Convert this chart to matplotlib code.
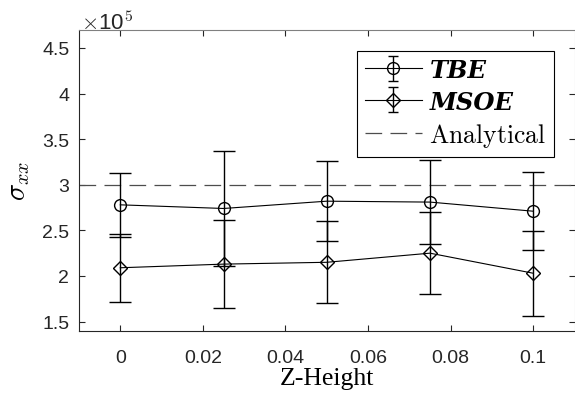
import matplotlib
matplotlib.use("Agg")
import matplotlib.pyplot as plt
from matplotlib.lines import Line2D
import numpy as np

# Data
z_height = [0.0, 0.025, 0.05, 0.075, 0.1]
tbe_mean = [2.78e5, 2.74e5, 2.82e5, 2.81e5, 2.71e5]
tbe_err = [0.35e5, 0.63e5, 0.44e5, 0.46e5, 0.43e5]
msoe_mean = [2.09e5, 2.13e5, 2.15e5, 2.25e5, 2.03e5]
msoe_err = [0.37e5, 0.48e5, 0.45e5, 0.45e5, 0.465e5]
analytical = 3.0e5
x_ticks = [0, 0.02, 0.04, 0.06, 0.08, 0.1]
x_ticklabels = ["0", "0.02", "0.04", "0.06", "0.08", "0.1"]
y_ticks = [1.5, 2, 2.5, 3, 3.5, 4, 4.5]
y_ticklabels = ["1.5", "2", "2.5", "3", "3.5", "4", "4.5"]
scale = 1e5

plt.rcParams['mathtext.fontset'] = 'cm'
plt.rcParams['lines.scale_dashes'] = False

fig = plt.figure(figsize=(5.75, 4.02), dpi=100)
ax = fig.add_axes([79/575, (402-331.7)/402, (574.5-79)/575, (331.7-30.7)/402])

axcol = (0.15, 0.15, 0.15)
tick_font = 'Liberation Sans'

x = np.array(z_height)
h1 = ax.errorbar(x, np.array(tbe_mean)/scale, yerr=np.array(tbe_err)/scale,
                 color='black', marker='o', markersize=8.5, markerfacecolor='none',
                 markeredgewidth=1.0, linewidth=0.8, elinewidth=1.0, capsize=7.9,
                 capthick=1.3, label='TBE', zorder=3)
h2 = ax.errorbar(x, np.array(msoe_mean)/scale, yerr=np.array(msoe_err)/scale,
                 color='black', marker='D', markersize=7.5, markerfacecolor='none',
                 markeredgewidth=1.0, linewidth=0.8, elinewidth=1.0, capsize=7.9,
                 capthick=1.3, label='MSOE', zorder=3)
h3 = ax.axhline(analytical/scale, color=(0.3, 0.3, 0.3), linewidth=0.9,
                linestyle=(0, (12, 6)), label='Analytical', zorder=2)

ax.set_xlim(-0.01, 0.11)
ax.set_ylim(1.4, 4.7)
ax.set_xticks(x_ticks)
ax.set_xticklabels(x_ticklabels)
ax.set_yticks(y_ticks)
ax.set_yticklabels(y_ticklabels)

ax.tick_params(direction='in', length=4, width=0.8, colors=axcol, top=True, right=True,
               labelsize=14, pad=7)
for lbl in ax.get_xticklabels() + ax.get_yticklabels():
    lbl.set_fontfamily(tick_font)
ax.tick_params(axis='x', pad=13)
for s in ax.spines.values():
    s.set_color(axcol)
    s.set_linewidth(0.8)
ax.spines['right'].set_color((0.75, 0.75, 0.75))
ax.spines['top'].set_color((0.5, 0.5, 0.5))

ax.set_xlabel('Z-Height', fontfamily='Liberation Serif', fontsize=18.5, labelpad=1)
ax.set_ylabel(r'$\sigma_{xx}$', fontsize=20.5, labelpad=7)

ax.text(0.004, 0.985, r'$\times$10$^5$', transform=ax.transAxes, fontsize=16,
        fontfamily=tick_font, color=axcol, ha='left', va='bottom')

leg = ax.legend(handles=[h1, h2, h3], loc='upper right',
                bbox_to_anchor=(1 - 20.5/495.5, 1 - 21/301),
                borderaxespad=0, fancybox=False, framealpha=1, edgecolor='black',
                handlelength=2.2, handletextpad=0.3, borderpad=0.3, labelspacing=0.28,
                prop={'family': 'Liberation Serif', 'size': 18.5})
leg.get_frame().set_linewidth(0.8)
texts = leg.get_texts()
for t in texts[:2]:
    t.set_fontfamily('DejaVu Serif')
    t.set_fontweight('bold')
    t.set_fontstyle('italic')
    t.set_fontsize(17.5)
texts[2].set_text(r'$\mathrm{Analytical}$')
for ln in leg.findobj(Line2D):
    if ln.get_marker() == '_':
        ln.set_markersize(7.2)

fig.savefig('out.png', dpi=100)
